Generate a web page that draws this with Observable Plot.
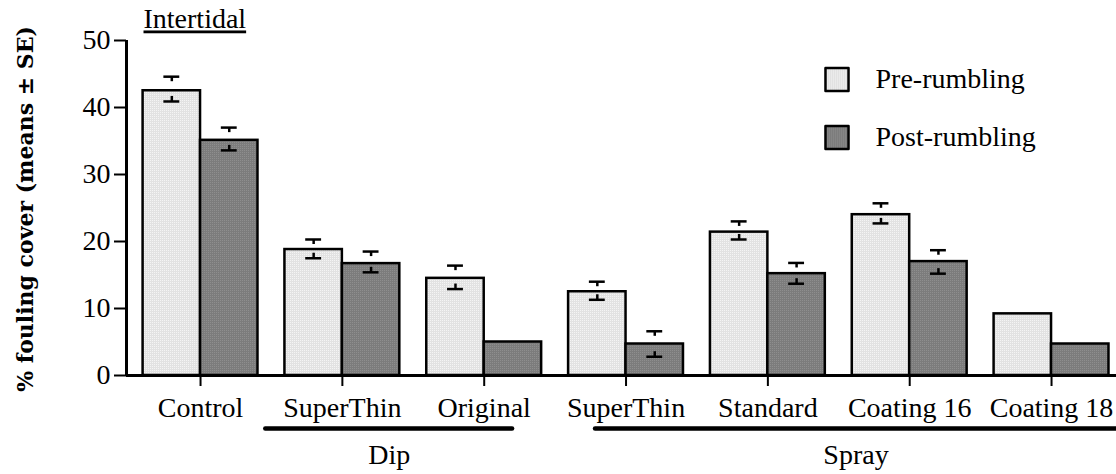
<!DOCTYPE html>
<html>
<head>
<meta charset="utf-8">
<script src="https://cdn.jsdelivr.net/npm/d3@7"></script>
<script src="https://cdn.jsdelivr.net/npm/@observablehq/plot@0.6"></script>
<style>
  html, body { margin: 0; padding: 0; background: white; }
</style>
</head>
<body>
<div id="chart"></div>
<script>
// ---- data ----
const categories = ["Control", "SuperThin", "Original", "SuperThin", "Standard", "Coating 16", "Coating 18"];
const seriesNames = ["Pre", "Post"];
const seriesLabels = ["Pre-rumbling", "Post-rumbling"];
const preMean  = [42.5, 18.8, 14.5, 12.5, 21.4, 24.0, 9.2];
const postMean = [35.1, 16.7, 5.0, 4.7, 15.2, 17.0, 4.7];
const preHi  = [44.6, 20.3, 16.4, 14.0, 23.0, 25.7, null];
const preLo  = [40.9, 17.5, 12.9, 11.3, 20.3, 22.7, null];
const postHi = [37.0, 18.5, null, 6.6, 16.8, 18.7, null];
const postLo = [33.6, 15.4, null, 2.8, 13.7, 15.2, null];
const groupNames = ["Dip", "Spray"];
const groupFirst = [1, 3];
const groupLast = [2, 6];
const yTicks = [0, 10, 20, 30, 40, 50];
const yTitle = "% fouling cover (means \u00b1 SE)";
const panelTitle = "Intertidal";

// ---- layout constants ----
const W = 0.405;        // bar width in category units
const CAP = 0.056;      // half cap width
const STEM = 0.75;      // stem length (value units)
const xDomain = [-0.522, 6.458];
const groupPad = [[-0.54, 0.2], [-0.215, 0.458]];

const rows = categories.flatMap((c, i) => [
  {i, series: "Pre", value: preMean[i], hi: preHi[i], lo: preLo[i]},
  {i, series: "Post", value: postMean[i], hi: postHi[i], lo: postLo[i]}
]);
const cx = d => d.i + (d.series === "Pre" ? -W / 2 : W / 2);
const errRows = rows.filter(d => d.hi != null);
const groups = groupNames.map((name, k) => ({
  name, x1: groupFirst[k] + groupPad[k][0], x2: groupLast[k] + groupPad[k][1]
}));

const legendMarks = seriesNames.flatMap((s, k) => [
  Plot.dot([s], {frameAnchor: "top-left", dx: 710.5, dy: 39 + 58 * k, symbol: "square", r: 13,
    fill: d => d, stroke: "black", strokeWidth: 2.5, strokeLinejoin: "round"}),
  Plot.text([seriesLabels[k]], {frameAnchor: "top-left", dx: 749, dy: 39 + 58 * k, textAnchor: "start",
    lineAnchor: "middle", fontSize: 28, fill: "black"})
]);

const svg = Plot.plot({
  width: 1116, height: 474,
  marginLeft: 126, marginRight: 0, marginTop: 40, marginBottom: 99,
  x: {domain: xDomain},
  y: {domain: [0, 50]},
  color: {type: "ordinal", domain: seriesNames, range: ["url(#patPre)", "url(#patPost)"]},
  style: {fontFamily: "'Liberation Serif', 'Times New Roman', serif", fontSize: "28px", color: "black", background: "white"},
  marks: [
    Plot.rectY(rows, {
      x1: d => d.i + (d.series === "Pre" ? -W : 0),
      x2: d => d.i + (d.series === "Pre" ? 0 : W),
      y: "value", fill: "series", stroke: "black", strokeWidth: 2.5
    }),
    Plot.ruleY(errRows, {x1: d => cx(d) - CAP, x2: d => cx(d) + CAP, y: "hi", strokeWidth: 2.5}),
    Plot.ruleY(errRows, {x1: d => cx(d) - CAP, x2: d => cx(d) + CAP, y: "lo", strokeWidth: 2.5}),
    Plot.ruleX(errRows, {x: cx, y1: "hi", y2: d => d.hi - STEM, strokeWidth: 2.5}),
    Plot.ruleX(errRows, {x: cx, y1: "lo", y2: d => d.lo + STEM, strokeWidth: 2.5}),
    Plot.ruleY([0], {strokeWidth: 3}),
    Plot.ruleX([xDomain[0]], {y1: 0, y2: 50, strokeWidth: 3}),
    Plot.axisY(yTicks, {tickSize: 12, tickPadding: 4, fontSize: 28, strokeWidth: 2, label: null}),
    Plot.axisX(d3.range(categories.length), {tickFormat: i => categories[i], tickSize: 11, tickPadding: 11,
      fontSize: 28, strokeWidth: 2, label: null}),
    Plot.ruleY(groups, {x1: "x1", x2: "x2", y: () => 0, dy: 53, strokeWidth: 4.5, strokeLinecap: "round"}),
    Plot.text(groups, {x: d => (d.x1 + d.x2) / 2, y: () => 0, dy: 80, text: "name", fontSize: 28}),
    Plot.text([panelTitle], {frameAnchor: "top-left", dx: 17, dy: -21, textAnchor: "start",
      lineAnchor: "middle", fontSize: 28}),
    Plot.text([yTitle], {frameAnchor: "left", dx: -101, dy: 1, rotate: -90, textAnchor: "middle", lineAnchor: "middle",
      fontWeight: "bold", fontFamily: "'DejaVu Serif', serif", fontSize: 22}),
    ...legendMarks
  ]
});

d3.select(svg).insert("defs", ":first-child").html(`
  <pattern id="patPre" width="2" height="2" patternUnits="userSpaceOnUse">
    <rect width="2" height="2" fill="#e2e2e2"/>
    <rect width="1" height="1" fill="#f4f4f4"/>
  </pattern>
  <pattern id="patPost" width="2" height="2" patternUnits="userSpaceOnUse">
    <rect width="2" height="2" fill="#7c7c7c"/>
    <rect width="1" height="1" fill="#8e8e8e"/>
  </pattern>`);
d3.select(svg).selectAll("text").filter(function() { return this.textContent === panelTitle; })
  .style("text-decoration", "underline");

document.getElementById("chart").appendChild(svg);
</script>
</body>
</html>
